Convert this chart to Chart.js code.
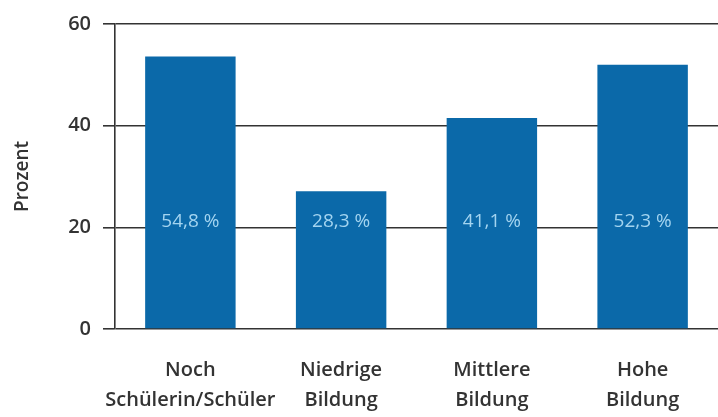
<!DOCTYPE html>
<html>
<head>
<meta charset="utf-8">
<script src="https://cdn.jsdelivr.net/npm/chart.js@4.4.0/dist/chart.umd.min.js"></script>
<style>
  html, body { margin: 0; padding: 0; background: #fff; }
  #wrap { width: 718px; height: 417px; position: relative; }
</style>
</head>
<body>
<div id="wrap"><canvas id="chart"></canvas></div>
<script>
// Daten
const categories = [['Noch', 'Schülerin/Schüler'], ['Niedrige', 'Bildung'], ['Mittlere', 'Bildung'], ['Hohe', 'Bildung']];
const values = [53.6, 27.1, 41.5, 52.0];
const valueLabels = ['54,8 %', '28,3 %', '41,1 %', '52,3 %'];
const yTicks = [0, 20, 40, 60];

const FONT = "'Open Sans', 'Noto Sans', sans-serif";

// Werte in die Balken schreiben
const barLabels = {
    id: 'barLabels',
    afterDatasetsDraw(chart) {
        const ctx = chart.ctx;
        const meta = chart.getDatasetMeta(0);
        const y = chart.scales.y.getPixelForValue(21.2);
        ctx.save();
        ctx.font = `500 19px ${FONT}`;
        ctx.fillStyle = '#a3d4f0';
        ctx.textAlign = 'center';
        ctx.textBaseline = 'middle';
        meta.data.forEach((bar, i) => {
            ctx.fillText(valueLabels[i], bar.x, y);
        });
        ctx.restore();
    }
};

new Chart(document.getElementById('chart'), {
    type: 'bar',
    data: {
        labels: categories,
        datasets: [{
            data: values,
            backgroundColor: '#0b69a9',
            barPercentage: 0.6,
            categoryPercentage: 1.0
        }]
    },
    options: {
        responsive: true,
        maintainAspectRatio: false,
        animation: false,
        layout: { padding: { top: 21, right: 0, left: 0, bottom: 0 } },
        plugins: { legend: { display: false }, tooltip: { enabled: false } },
        scales: {
            x: {
                grid: { display: false, drawTicks: false },
                border: { display: false },
                ticks: {
                    color: '#333',
                    padding: 26,
                    maxRotation: 0,
                    autoSkip: false,
                    font: { family: FONT, size: 20, weight: 600, lineHeight: 1.5 }
                },
                afterFit: (s) => { s.height = 88; }
            },
            y: {
                min: 0,
                max: 60,
                afterBuildTicks: (s) => { s.ticks = yTicks.map(v => ({ value: v })); },
                grid: { color: '#333', lineWidth: 1.6, tickLength: 12 },
                border: { display: true, color: '#333', width: 1.6 },
                ticks: {
                    color: '#333',
                    padding: 12,
                    font: { family: FONT, size: 20, weight: 600 }
                },
                title: {
                    display: true,
                    text: 'Prozent',
                    color: '#333',
                    padding: { top: 11, bottom: 0 },
                    font: { family: FONT, size: 19, weight: 600 }
                },
                afterFit: (s) => { s.width = 115; }
            }
        }
    },
    plugins: [barLabels]
});
</script>
</body>
</html>
